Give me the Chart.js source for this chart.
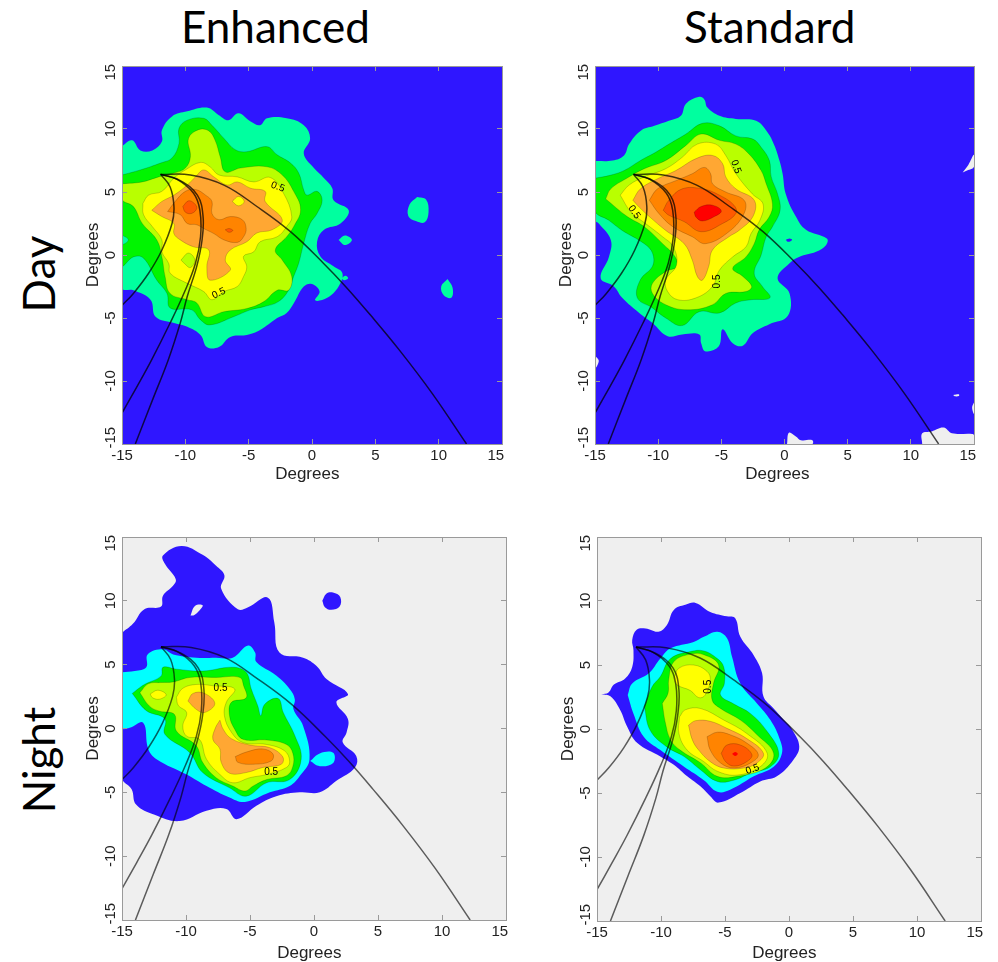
<!DOCTYPE html>
<html>
<head>
<meta charset="utf-8">
<script src="https://cdn.jsdelivr.net/npm/chart.js@4"></script>
<style>
  html, body { margin: 0; padding: 0; background: #fff; }
  body { width: 998px; height: 962px; position: relative; overflow: hidden; }
  canvas { position: absolute; }
  .head { position: absolute; font-family: Lato, sans-serif; color: #000; white-space: nowrap; font-size: 44px; line-height: 50px; }
  .side { transform: translate(-50%, -50%) rotate(-90deg); }
</style>
</head>
<body>
<div class="head" style="left:181px;top:1px">Enhanced</div>
<div class="head" style="left:684px;top:1px">Standard</div>
<div class="head side" style="left:38px;top:274px">Day</div>
<div class="head side" style="left:38px;top:760px">Night</div>
<canvas id="dayEnhanced"></canvas>
<canvas id="dayStandard"></canvas>
<canvas id="nightEnhanced"></canvas>
<canvas id="nightStandard"></canvas>
<script>
// axis
const axisMin = -15;
const axisMax = 15;
const tickStep = 5;
const plotSquare = [[-15,15],[15,15],[15,-15],[-15,-15],[-15,15]];

// colour levels
const BLUE = '#2f16ff', SPRING = '#00ff9f', CYAN = '#00ffff', GREEN = '#00f500', LIME = '#b9ff00',
      YELLOW = '#ffff00', LTORANGE = '#ffa733', ORANGE = '#ff8400', DKORANGE = '#ff5a00', RED = '#ff0000', GREY = '#efefef';

// overlay curves, same in all four panels
const limbArc = [[-11.95,6.4],[-9.6,6.35],[-6.95,5.55],[-4.35,3.85],[-1.7,1.85],[0.9,-0.65],[2.7,-2.55],[4.6,-4.75],[6.9,-7.55],[9.5,-11],[12.2,-15]];
const curveLeft = [[-11.95,6.4],[-11.2,5.4],[-10.9,3.85],[-11.05,2.5],[-11.85,0.4],[-12.9,-1.45],[-14.1,-3.05],[-15,-4]];
const curveMid = [[-11.95,6.4],[-10.65,6],[-9.35,4.9],[-8.85,3.55],[-8.8,1.45],[-9.2,-0.65],[-10.05,-2.9],[-11.2,-5.4],[-12.65,-8.3],[-13.85,-10.5],[-15,-12.55]];
const curveRight = [[-11.95,6.4],[-10.4,5.9],[-9.05,4.75],[-8.6,3.05],[-8.7,1.05],[-9.1,-0.9],[-9.85,-3.3],[-10.4,-5.4],[-11.35,-8.33],[-12.55,-11.4],[-13.95,-15]];

// Day / Enhanced contours
const de1 = [[-15,8.65],[-14.2,9.1],[-13.55,8.3],[-12.6,8.3],[-11.85,9],[-11.85,9.9],[-11.05,11],[-9.85,11.4],[-8.3,11.7],[-7.35,11.1],[-6.6,10.7],[-5.8,11.25],[-4.85,10.6],[-4.1,10.3],[-3.55,10.85],[-2,10.85],[-0.65,10.3],[-0.15,9.25],[-0.65,8.05],[0.15,6.9],[0.95,6.1],[1.6,5.3],[1.7,4.35],[2.9,3.55],[2.25,2.5],[0.95,2],[0.4,1.05],[0.65,-0.1],[1.7,-0.9],[2.4,-1.45],[2.1,-2.5],[1.2,-3.4],[0.25,-3.6],[0.6,-2.9],[0,-2.3],[-0.65,-2.5],[-1.45,-3.85],[-2,-4.6],[-2.75,-5],[-4.1,-5.95],[-5.15,-6.35],[-6.45,-6.5],[-7.35,-7.3],[-8.3,-7.3],[-8.8,-6.35],[-9.85,-5.7],[-10.9,-5.4],[-12.35,-4.9],[-12.75,-3.55],[-14.1,-2.8],[-15,-2.6]];
const de1a = [[8.3,4.6],[9,4.4],[9.2,3.4],[8.9,2.6],[8.2,2.7],[7.6,3.1],[7.7,4]];
const de1b = [[2.1,1.2],[2.6,1.55],[3.15,1.2],[2.6,0.8]];
const de1c = [[2.3,-1.85],[2.65,-1.65],[2.85,-1.85],[2.55,-2]];
const de1d = [[10.7,-1.9],[11.1,-2.6],[11,-3.4],[10.4,-3.2],[10.2,-2.5]];
const de2 = [[-15,6.35],[-13.55,6.75],[-11.95,7.3],[-11.05,7.7],[-10.5,8.85],[-10.5,10.05],[-9.85,10.7],[-8.55,10.85],[-7.9,10.3],[-6.95,9.25],[-6.05,8.35],[-5.15,8.2],[-3.55,8.6],[-2.75,7.95],[-1.7,7.3],[-1.05,6.5],[-0.65,5.15],[-0.4,4.75],[0.4,5.05],[0.8,4.35],[0.4,3.3],[-0.15,2.5],[-0.65,0.95],[-1.05,-0.65],[-1.45,-1.7],[-1.85,-2.8],[-2.65,-3.7],[-3.8,-4.1],[-4.85,-4.35],[-6.2,-4.9],[-8.05,-5.55],[-8.8,-5.15],[-9.5,-4.35],[-11.2,-4.2],[-11.45,-3.05],[-12.25,-2],[-13.3,-0.25],[-14.1,-0.15],[-15,-0.8]];
const de2hole = [[-15,1.6],[-14.5,1.2],[-15,0.85]];
const de3 = [[-15,5.65],[-13.4,5.8],[-12.1,6.2],[-10.9,6.5],[-10,6.9],[-9.6,7.8],[-9.75,9.25],[-8.95,9.95],[-8.15,9.85],[-7.65,9.1],[-7.25,7.8],[-6.85,6.6],[-5.65,6.9],[-3.55,7],[-2.35,6.35],[-1.45,5.05],[-0.9,3.6],[-1.45,2.25],[-2,1.45],[-2.9,0.4],[-2.35,-0.4],[-1.6,-1.7],[-1.85,-2.8],[-2.75,-2.8],[-3.8,-3.7],[-5.15,-4.25],[-6.95,-4.5],[-8.4,-4.9],[-9.1,-3.8],[-9.85,-3.55],[-11.2,-3.05],[-11.6,-1.7],[-11.85,-0.15],[-12.25,1.2],[-13.4,2.5],[-14.1,3.85],[-15,4.4]];
const de4 = [[-13.35,4.1],[-12.9,4.75],[-11.85,5.05],[-10.9,6.1],[-10,6.75],[-8.8,7.35],[-8.05,7],[-7.35,6.35],[-5.9,6.2],[-4.6,5.8],[-3.3,6.15],[-2.25,4.9],[-1.6,3.05],[-2,2.25],[-2.75,1.45],[-4.1,1.05],[-4.6,0.25],[-5.4,-0.1],[-5.15,-0.95],[-5.4,-1.7],[-5.9,-2.5],[-6.95,-2.9],[-7.9,-3.55],[-8.55,-2.9],[-9.85,-2.25],[-11.2,-1.45],[-11.3,-0.7],[-11.85,0.25],[-11.85,1.2],[-12.6,2.25],[-13.3,3.2]];
const de4hole = [[-10.35,-0.4],[-9.75,0.15],[-9.25,-0.4],[-9.6,-1],[-10.1,-0.65]];
const de5 = [[-12.65,3.55],[-11.85,4.25],[-10.9,4.75],[-9.85,5.55],[-9.2,6.2],[-8.55,6.75],[-7.75,6.2],[-6.7,5.55],[-5.9,5.8],[-4.85,5.3],[-3.7,5.05],[-3.7,4.25],[-2.35,2.8],[-3.15,2],[-4.35,1.75],[-5.15,1.05],[-6.45,0.4],[-6.85,-0.4],[-6.45,-1.2],[-8.05,-2],[-8.3,-0.95],[-8.15,0.4],[-9.35,0.65],[-10.4,1.2],[-10.9,1.7],[-10.9,2.5],[-11.85,3.05]];
const de5hole = [[-6.3,4.25],[-5.8,4.65],[-5.35,4.25],[-5.8,3.9]];
const de6 = [[-11.4,3.45],[-10.8,4.25],[-10,5.05],[-9.2,5.2],[-8.4,4.75],[-7.9,4.25],[-7.9,3.3],[-7.35,2.8],[-6.45,3.05],[-5.5,2.8],[-5.2,2.1],[-5.4,1.45],[-5.9,1],[-6.95,1.2],[-7.75,1.7],[-8.55,2.1],[-9.1,2.4],[-9.85,2.5],[-10.4,3.2]];
const de7a = [[-10.2,3.85],[-9.75,4.3],[-9.3,4.1],[-9.1,3.7],[-9.5,3.3],[-10,3.4]];
const de7b = [[-6.85,2],[-6.55,2.1],[-6.25,1.95],[-6.55,1.8]];
const deText = [[-2.7,5.4,20],[-7.35,-3.05,-25]];

// Day / Standard contours
const ds1 = [[-15,7.45],[-13.6,7.5],[-12.7,7.9],[-12.3,8.8],[-11.4,9.85],[-10.3,10.25],[-9.15,10.65],[-8.2,11.05],[-7.8,12],[-6.75,12.55],[-6.35,12.35],[-6.1,11.7],[-5.15,11.05],[-3.85,10.8],[-2.25,10.65],[-1.35,9.75],[-0.8,8.7],[-0.4,7.5],[-0.15,6.45],[0.1,4.85],[0.9,3.05],[1.7,2],[3.35,1.3],[3.3,0.8],[2.5,0.25],[1.15,-0.15],[0.4,-0.65],[-0.55,-1.85],[0.4,-3.05],[0.25,-4.85],[-1.2,-5.5],[-2.5,-6.2],[-3.3,-7.2],[-4.1,-7],[-4.9,-5.9],[-5.2,-7.25],[-6.25,-7.65],[-6.6,-7],[-6.75,-6.3],[-8.1,-6.3],[-9.25,-6.45],[-10.45,-5.4],[-11.5,-4.6],[-12.85,-3.4],[-13.5,-2.5],[-14.55,-1.85],[-13.9,-0.15],[-13.75,1.2],[-14.7,2.5],[-15,2.75]];
const ds1hole = [[0.1,1.2],[0.4,1.3],[0.6,1.2],[0.3,1.05]];
const ds2 = [[-15,6.1],[-13.9,6.3],[-12.7,6.7],[-11.4,7.5],[-10.2,8.15],[-9.15,8.8],[-7.8,9.6],[-6.5,10.45],[-5.15,10.25],[-3.85,9.45],[-2.5,9.2],[-1.85,8.55],[-1.2,7.5],[-1.05,6.2],[-0.55,4.85],[-0.35,3.55],[-0.95,2.25],[-1.45,1.45],[-1.85,0],[-2.4,-1.45],[-1.75,-2.5],[-1.15,-3.4],[-2.65,-3.55],[-3.85,-3.8],[-5.15,-4.6],[-6.75,-4.5],[-8.1,-5.6],[-9.4,-5],[-10.45,-4.2],[-11.65,-3.4],[-11.4,-1.95],[-10.45,-0.9],[-10.45,0.15],[-11.1,0.9],[-12.85,1.95],[-13.9,2.75],[-15,3.5]];
const ds3 = [[-14.15,4.45],[-13.75,5.25],[-12.55,6.05],[-11.1,6.85],[-9.4,7.5],[-7.8,8.7],[-6.6,9.6],[-5.15,9.1],[-3.85,8.8],[-2.8,8],[-1.85,6.7],[-1.45,5.65],[-0.95,4.05],[-1.2,3.05],[-2,2],[-2.4,0.9],[-3.05,-0.15],[-4.1,-1.05],[-3.3,-1.7],[-2.6,-2.5],[-3.05,-2.9],[-4.65,-3.05],[-5.7,-3.95],[-7.7,-4.35],[-9.4,-3.95],[-10.45,-3.05],[-10.45,-2.25],[-9.4,-1.3],[-8.55,-0.95],[-8.65,-0.15],[-9.65,0.9],[-11.1,2.25],[-12.45,3.05]];
const ds4 = [[-13,4.75],[-12.3,5.55],[-11.1,6.2],[-9.4,6.85],[-8.1,7.75],[-6.9,8.8],[-5.45,8.8],[-4.65,7.9],[-3.85,6.45],[-2.55,4.85],[-1.7,4.05],[-1.95,2.75],[-2.65,1.7],[-3.05,0.65],[-4.1,-0.15],[-5.15,-1.2],[-5.7,-2.5],[-7,-3.4],[-8.45,-3.55],[-9.25,-2.9],[-9.4,-2],[-8.55,-0.8],[-8.8,0.65],[-9.65,1.45],[-11,2.5],[-12.15,3.4]];
const ds5 = [[-12,4.35],[-11.4,5.25],[-10.05,6.05],[-8.6,6.7],[-7,7.65],[-5.7,7.9],[-4.9,7.25],[-4.65,6.2],[-3.85,5.25],[-2.4,4.35],[-2.5,3.05],[-3.6,1.95],[-4.4,1.45],[-5.7,0.4],[-6,-0.9],[-6.5,-2],[-6.9,-1.7],[-7.3,-0.4],[-7.95,0.9],[-9.4,1.95],[-10.7,3.05],[-11.5,3.8]];
const ds6 = [[-10.7,4.35],[-10.05,5.25],[-8.6,5.9],[-7.3,6.45],[-6.35,6.95],[-5.85,6.45],[-5.7,5.65],[-4.65,5],[-3.2,4.35],[-3.2,3.3],[-4.4,1.85],[-6.25,0.9],[-7.3,1.45],[-8.85,2.25],[-9.95,3.3]];
const ds7 = [[-9.6,3.55],[-9.15,4.35],[-8.1,5.25],[-6.5,5.25],[-5.15,4.75],[-4,3.95],[-3.85,3.3],[-4.9,2.5],[-6.6,1.85],[-7.95,2.65],[-9.15,3.15]];
const ds8 = [[-7.15,3.4],[-6.6,3.85],[-5.7,3.95],[-5,3.5],[-5.55,3.05],[-6.5,2.7],[-7,3]];
const dsGapTop = [[14.1,6.55],[14.55,7.15],[15,7.95],[15,7],[14.45,6.7]];
const dsGapBottom = [[10.9,-15],[10.9,-14.15],[11.65,-14],[12.6,-13.7],[13.25,-14.15],[14.85,-14.2],[15,-14.3],[15,-15]];
const dsGapEdge = [[15,-11.7],[14.85,-12.1],[15,-12.6]];
const dsGapDash = [[13.4,-11.1],[13.8,-11.05],[13.8,-11.2],[13.4,-11.2]];
const dsGapMid = [[0.2,-15],[0.35,-14.1],[0.9,-14.4],[1.3,-14.7],[2.2,-14.7],[2.2,-15]];
const dsGapLeft = [[-15,-8],[-14.7,-8.4],[-15,-9]];
const dsText = [[-3.85,7,70],[-11.9,3.4,55],[-5.35,-2.1,-90]];

// Night / Enhanced contours
const ne1 = [[-15,7.5],[-14.15,8.2],[-13.25,9.35],[-11.95,9.55],[-11.8,10.4],[-11,11.2],[-10.8,11.7],[-11.65,12.9],[-11.8,13.55],[-10.35,14.3],[-8.7,13.6],[-7.65,12.75],[-7,12],[-7.25,10.95],[-5.95,9.35],[-5.15,9.5],[-3.6,10.25],[-3.1,8.3],[-2.7,5.95],[-0.85,5.55],[0.2,4.9],[1,3.85],[2.65,2.7],[1.75,2.05],[2.65,0.75],[2.55,-0.3],[2.25,-1.1],[3.3,-2.15],[3.2,-3.05],[1.75,-4.1],[0.45,-5],[-1.1,-5],[-2.95,-5.3],[-4.5,-6.05],[-6.05,-7.1],[-6.85,-6.3],[-8.4,-6.45],[-10.5,-7.25],[-12.45,-6.75],[-13.9,-5.95],[-14.25,-4.75],[-15,-3.85]];
const ne1hole = [[-9.65,8.85],[-9.3,9.6],[-8.7,9.65],[-8.95,9.25],[-9.35,8.9]];
const ne1isle = [[0.65,10],[0.96,10.55],[1.48,10.65],[2.05,10.3],[2,9.55],[1.35,9.3],[0.85,9.5]];
const ne2 = [[-15,4.4],[-14,4.5],[-13.1,4.8],[-13,5.8],[-11.8,6.2],[-11,5.8],[-9.2,5.55],[-7.65,5.55],[-6.35,5.55],[-5.15,6.5],[-4.6,5.95],[-4.5,5.2],[-2.95,4.15],[-1.9,3.1],[-1.5,2.3],[-1.6,1.5],[-0.85,0.2],[-0.35,-2.4],[-1.1,-3.7],[-1.9,-4.5],[-3.45,-5],[-5.4,-5.75],[-6.6,-5.4],[-8.4,-4.5],[-9.95,-3.6],[-12.3,-2.4],[-12.95,-1.6],[-13.35,0.45],[-14.4,0.05],[-15,0.05]];
const ne2isle = [[-0.3,-2.55],[0.45,-1.95],[1.5,-1.9],[1.5,-2.7],[0.45,-2.95]];
const ne3 = [[-14.2,2.75],[-13.25,3.45],[-11.95,4.1],[-11.8,4.8],[-10.75,4.65],[-8.7,4.5],[-6.35,4.8],[-5.3,4.4],[-4.9,3.1],[-4.4,1.8],[-4.15,1],[-3.85,1.9],[-2.8,2.35],[-2.4,1.25],[-1.5,-0.55],[-1,-2.4],[-1.9,-4],[-3.7,-4.25],[-5.3,-5.3],[-6.6,-4.65],[-8.7,-3.45],[-9.7,-1.9],[-11.65,-0.45],[-11.65,0.75],[-13.1,1.4]];
const ne4 = [[-13.6,2.8],[-12.95,3.5],[-11.95,3.6],[-11,3.65],[-9.7,4],[-7.65,4],[-5.8,4],[-5.5,3.35],[-5.3,2.4],[-6.45,2.05],[-6.6,1],[-6.2,-0.05],[-5.55,-0.85],[-3.7,-0.9],[-2.15,-1.25],[-1.65,-1.95],[-1.65,-2.95],[-2.15,-3.7],[-3.7,-4],[-4.75,-4.5],[-5.4,-4.9],[-6.35,-4.5],[-7.65,-3.85],[-8.7,-2.65],[-9.2,-1.35],[-10.75,-0.2],[-10.9,1.1],[-12.05,1.35],[-12.85,1.75]];
const ne5 = [[-10.75,2.45],[-10.25,3.15],[-9.2,3.45],[-7.9,3.35],[-6.2,3.1],[-6.85,2.05],[-7,1],[-6.45,-0.3],[-5.55,-1.1],[-3.7,-1.25],[-2.3,-1.75],[-1.9,-2.55],[-2.15,-3.05],[-3.7,-3.6],[-5,-3.85],[-6.35,-4.25],[-7.35,-3.6],[-8.4,-2.4],[-8.95,-0.85],[-9.95,-0.6],[-10.25,0.2],[-9.95,1.25],[-10.6,1.8]];
const ne5isle = [[-12.8,2.7],[-12.2,3],[-11.55,2.65],[-12.05,2.3],[-12.6,2.4]];
const ne6a = [[-9.85,2.15],[-9.45,2.75],[-8.55,2.75],[-7.75,1.95],[-8.55,1.25],[-9.2,1.5]];
const ne6b = [[-7.35,0.65],[-7.1,-0.05],[-6.45,-0.8],[-5,-1.3],[-3.45,-1.5],[-2.45,-2.2],[-2.55,-2.8],[-4,-3.05],[-5.3,-3.45],[-6.6,-3.5],[-7.25,-2.65],[-7.35,-1.6],[-7.9,-0.85],[-7.7,0.05]];
const ne7 = [[-6.15,-2.2],[-5.3,-1.85],[-4,-1.6],[-3.2,-2],[-3.35,-2.55],[-4.75,-2.8],[-5.95,-2.65]];
const neText = [[-7.3,3.15,0],[-3.35,-3.4,0]];

// Night / Standard contours
const ns1 = [[-14.65,2.7],[-14.1,2.85],[-13.7,3.45],[-12.8,3.95],[-12.25,4.85],[-12.15,6.15],[-12.25,6.95],[-11.9,7.75],[-11.2,7.85],[-10.2,7.6],[-9.55,8.1],[-9,9.3],[-8.1,9.7],[-7.3,9.85],[-6.15,9.15],[-4.85,8.8],[-4.2,8.65],[-3.8,7.2],[-2.75,5.75],[-2.1,4.35],[-2,2.55],[-1.2,1.6],[-0.4,0.7],[0.25,-0.05],[0.8,-1.35],[0.35,-2.4],[-0.95,-3.7],[-2.25,-4.1],[-3.8,-5],[-5.5,-5.75],[-6.15,-5.25],[-6.9,-4.5],[-7.95,-3.7],[-9,-2.8],[-10.05,-2.15],[-11.85,-1.1],[-12.65,0.2],[-13.2,1.5],[-13.95,2.55]];
const ns2 = [[-12.6,2.65],[-12.25,3.55],[-10.95,4.35],[-10.05,5.5],[-9.25,6.3],[-7.45,6.8],[-6.65,7.2],[-5.6,7.6],[-4.85,7.1],[-4.45,5.65],[-3.8,3.55],[-2.5,2],[-1.45,0.7],[-0.7,-0.85],[-0.55,-1.9],[-1.2,-2.95],[-2.75,-3.7],[-4.6,-4.75],[-5.6,-4.9],[-6.65,-4],[-8.2,-2.95],[-10.05,-1.65],[-11.35,-0.6],[-12.15,1.2]];
const ns3 = [[-11.3,1.75],[-10.7,3.3],[-10.05,4.1],[-9.25,5.5],[-7.7,6.05],[-6.65,6.1],[-5.6,5.5],[-5.1,4.85],[-5.05,3.55],[-5.35,2.65],[-4.3,1.95],[-3,1.2],[-1.7,-0.2],[-0.8,-1.9],[-1.45,-2.95],[-3,-3.45],[-4.3,-4],[-5.6,-4.1],[-6.9,-3.2],[-8.2,-2.15],[-9.55,-1.4],[-10.85,-0.1]];
const ns4 = [[-9.9,2],[-9.45,2.8],[-9.4,3.85],[-9,5.25],[-7.7,5.85],[-6.65,5.8],[-5.5,5],[-5.9,3.55],[-6,2.25],[-5.35,1.6],[-3.8,0.7],[-2.5,-0.45],[-1.2,-1.9],[-1.85,-3.05],[-4.05,-3.7],[-5.6,-3.7],[-6.9,-2.65],[-8.5,-1.65],[-9.25,-0.85],[-9.65,0.45]];
const ns5a = [[-9,3.95],[-8.6,4.75],[-7.45,5],[-6.4,4.5],[-6.15,3.85],[-6.55,2.65],[-7.05,2.45],[-7.7,3],[-8.75,3.45]];
const ns5b = [[-8.55,0.95],[-8.1,1.5],[-6.9,1.6],[-5.1,0.7],[-3.3,-0.35],[-1.7,-1.9],[-2.25,-2.95],[-4.05,-3.6],[-5.6,-3.3],[-6.65,-2.55],[-7.95,-1.65],[-8.6,-0.35]];
const ns6 = [[-7.85,0.3],[-7.3,0.65],[-6.15,0.6],[-4.85,0.05],[-3.3,-0.75],[-2,-1.9],[-2.5,-2.65],[-3.55,-3.05],[-5.1,-3.05],[-6.15,-2.55],[-7.05,-1.65],[-7.55,-0.85]];
const ns7 = [[-6.4,-0.6],[-5.6,-0.25],[-4.6,-0.45],[-3.3,-1.1],[-2.4,-2],[-3,-2.65],[-4.3,-3.05],[-5.35,-2.65],[-6.15,-1.65]];
const ns8 = [[-5.3,-1.9],[-4.85,-1.25],[-3.8,-1.25],[-2.9,-2],[-3.3,-2.55],[-4.3,-2.9],[-4.95,-2.55]];
const ns9 = [[-4.45,-1.95],[-4.2,-1.8],[-4,-1.95],[-4.2,-2.1]];
const nsText = [[-6.3,3.3,-90],[-2.85,-3.15,-20]];

// [shape, colour, outlined]
const dayEnhancedLayers = [
  [plotSquare, BLUE, false], [de1, SPRING, false], [de1a, SPRING, false], [de1b, SPRING, false], [de1c, SPRING, false], [de1d, SPRING, false],
  [de2, GREEN, true], [de2hole, SPRING, true], [de3, LIME, true], [de4, YELLOW, true], [de4hole, LIME, true],
  [de5, LTORANGE, true], [de5hole, YELLOW, true], [de6, ORANGE, true], [de7a, DKORANGE, true], [de7b, DKORANGE, true]
];
const dayStandardLayers = [
  [plotSquare, BLUE, false], [dsGapTop, GREY, false], [dsGapBottom, GREY, false], [dsGapEdge, GREY, false], [dsGapDash, GREY, false], [dsGapMid, GREY, false], [dsGapLeft, GREY, false],
  [ds1, SPRING, false], [ds1hole, BLUE, false], [ds2, GREEN, true], [ds3, LIME, true], [ds4, YELLOW, true],
  [ds5, LTORANGE, true], [ds6, ORANGE, true], [ds7, DKORANGE, true], [ds8, RED, true]
];
const nightEnhancedLayers = [
  [plotSquare, GREY, false], [ne1, BLUE, false], [ne1hole, GREY, false], [ne1isle, BLUE, false], [ne2, CYAN, false], [ne2isle, CYAN, false],
  [ne3, GREEN, true], [ne4, LIME, true], [ne5, YELLOW, true], [ne5isle, YELLOW, true], [ne6a, LTORANGE, true], [ne6b, LTORANGE, true], [ne7, ORANGE, true]
];
const nightStandardLayers = [
  [plotSquare, GREY, false], [ns1, BLUE, false], [ns2, CYAN, false], [ns3, GREEN, true], [ns4, LIME, true],
  [ns5a, YELLOW, true], [ns5b, YELLOW, true], [ns6, LTORANGE, true], [ns7, ORANGE, true], [ns8, DKORANGE, true], [ns9, RED, false]
];

const overlayCurves = [limbArc, curveLeft, curveMid, curveRight];

const TICK_FONT = { family: '"Liberation Sans", Arial, sans-serif', size: 15 };
const TITLE_FONT = { family: '"Liberation Sans", Arial, sans-serif', size: 17 };
const AXIS_GREY = '#9a9a9a';
const M = { left: 39, right: 10, top: 10 };

function toPoints(shape, close) {
  const pts = shape.map(p => ({ x: p[0], y: p[1] }));
  if (close) pts.push({ x: shape[0][0], y: shape[0][1] });
  return pts;
}

function contourText(items) {
  return {
    id: 'contourText',
    afterDatasetsDraw(chart) {
      const { ctx, scales } = chart;
      ctx.save();
      ctx.font = '10px "Liberation Sans", Arial, sans-serif';
      ctx.fillStyle = '#000';
      ctx.textAlign = 'center';
      ctx.textBaseline = 'middle';
      items.forEach(it => {
        ctx.save();
        ctx.translate(scales.x.getPixelForValue(it[0]), scales.y.getPixelForValue(it[1]));
        ctx.rotate(it[2] * Math.PI / 180);
        ctx.fillText('0.5', 0, 0);
        ctx.restore();
      });
      ctx.restore();
    }
  };
}

// scales must not ask for room beyond the fixed margins
function fixSize(s, size) {
  if (s.isHorizontal()) s.height = size; else s.width = size;
  s.paddingLeft = s.paddingRight = s.paddingTop = s.paddingBottom = 0;
}

function makePanel(id, box, layers, textItems, curveColor) {
  const canvas = document.getElementById(id);
  canvas.width = box.w + M.left + M.right;
  canvas.height = box.h + M.top + box.bottom;
  canvas.style.left = (box.x - M.left) + 'px';
  canvas.style.top = (box.y - M.top) + 'px';

  const datasets = [];
  layers.forEach(l => {
    datasets.push({
      data: toPoints(l[0], true),
      showLine: true,
      fill: 'shape',
      backgroundColor: l[1],
      borderColor: l[2] ? 'rgba(0,0,0,0.3)' : l[1],
      borderWidth: l[2] ? 0.6 : 0,
      tension: l[0] === plotSquare ? 0 : 0.4,
      pointRadius: 0
    });
  });
  overlayCurves.forEach(c => {
    datasets.push({
      data: toPoints(c, false),
      showLine: true,
      fill: false,
      borderColor: curveColor,
      borderWidth: 1.5,
      tension: 0.4,
      pointRadius: 0
    });
  });
  // chart.js paints the first dataset last, so flip the order
  datasets.forEach((d, i) => { d.order = datasets.length - i; });

  const tickMarks = { drawOnChartArea: false, tickLength: -5, color: AXIS_GREY, z: 1 };
  const frame = { color: AXIS_GREY, z: 1 };

  new Chart(canvas, {
    type: 'scatter',
    data: { datasets },
    plugins: [contourText(textItems)],
    options: {
      responsive: false,
      animation: false,
      devicePixelRatio: 1,
      layout: { padding: 0, autoPadding: false },
      plugins: { legend: { display: false }, tooltip: { enabled: false }, title: { display: false } },
      scales: {
        x: {
          type: 'linear', position: 'bottom', min: axisMin, max: axisMax,
          grid: tickMarks, border: frame,
          ticks: {
            stepSize: tickStep, font: TICK_FONT, color: '#222', padding: 8, maxRotation: 0, autoSkip: false,
            callback: v => (v === axisMax ? v + '   ' : String(v))
          },
          // trailing spaces nudge the centred title left, as in the original
          title: { display: true, text: 'Degrees' + ' '.repeat(box.nudge), font: TITLE_FONT, color: '#222', padding: 0 },
          afterFit: s => fixSize(s, box.bottom)
        },
        y: {
          type: 'linear', position: 'left', min: axisMin, max: axisMax,
          grid: tickMarks, border: frame,
          ticks: {
            stepSize: tickStep, font: TICK_FONT, color: '#222', padding: -1, minRotation: 90, maxRotation: 90, crossAlign: 'center', autoSkip: false,
            callback: v => (v === axisMax ? v + '   ' : v === axisMin ? '   ' + v : String(v))
          },
          title: { display: true, text: 'Degrees', font: TITLE_FONT, color: '#222', padding: 0 },
          afterFit: s => fixSize(s, M.left)
        },
        xTop: {
          type: 'linear', axis: 'x', position: 'top', min: axisMin, max: axisMax,
          grid: tickMarks, border: frame, ticks: { stepSize: tickStep, display: false },
          afterFit: s => fixSize(s, M.top)
        },
        yRight: {
          type: 'linear', axis: 'y', position: 'right', min: axisMin, max: axisMax,
          grid: tickMarks, border: frame, ticks: { stepSize: tickStep, display: false },
          afterFit: s => fixSize(s, M.right)
        }
      }
    }
  });
}

makePanel('dayEnhanced', { x: 122, y: 66, w: 380, h: 378, bottom: 41, nudge: 2 }, dayEnhancedLayers, deText, 'rgba(0,0,0,0.72)');
makePanel('dayStandard', { x: 595, y: 66, w: 379, h: 378, bottom: 41, nudge: 3 }, dayStandardLayers, dsText, 'rgba(0,0,0,0.72)');
makePanel('nightEnhanced', { x: 122, y: 537, w: 384, h: 383, bottom: 44, nudge: 2 }, nightEnhancedLayers, neText, 'rgba(0,0,0,0.62)');
makePanel('nightStandard', { x: 597, y: 537, w: 384, h: 384, bottom: 43, nudge: 2 }, nightStandardLayers, nsText, 'rgba(0,0,0,0.62)');
</script>
</body>
</html>
